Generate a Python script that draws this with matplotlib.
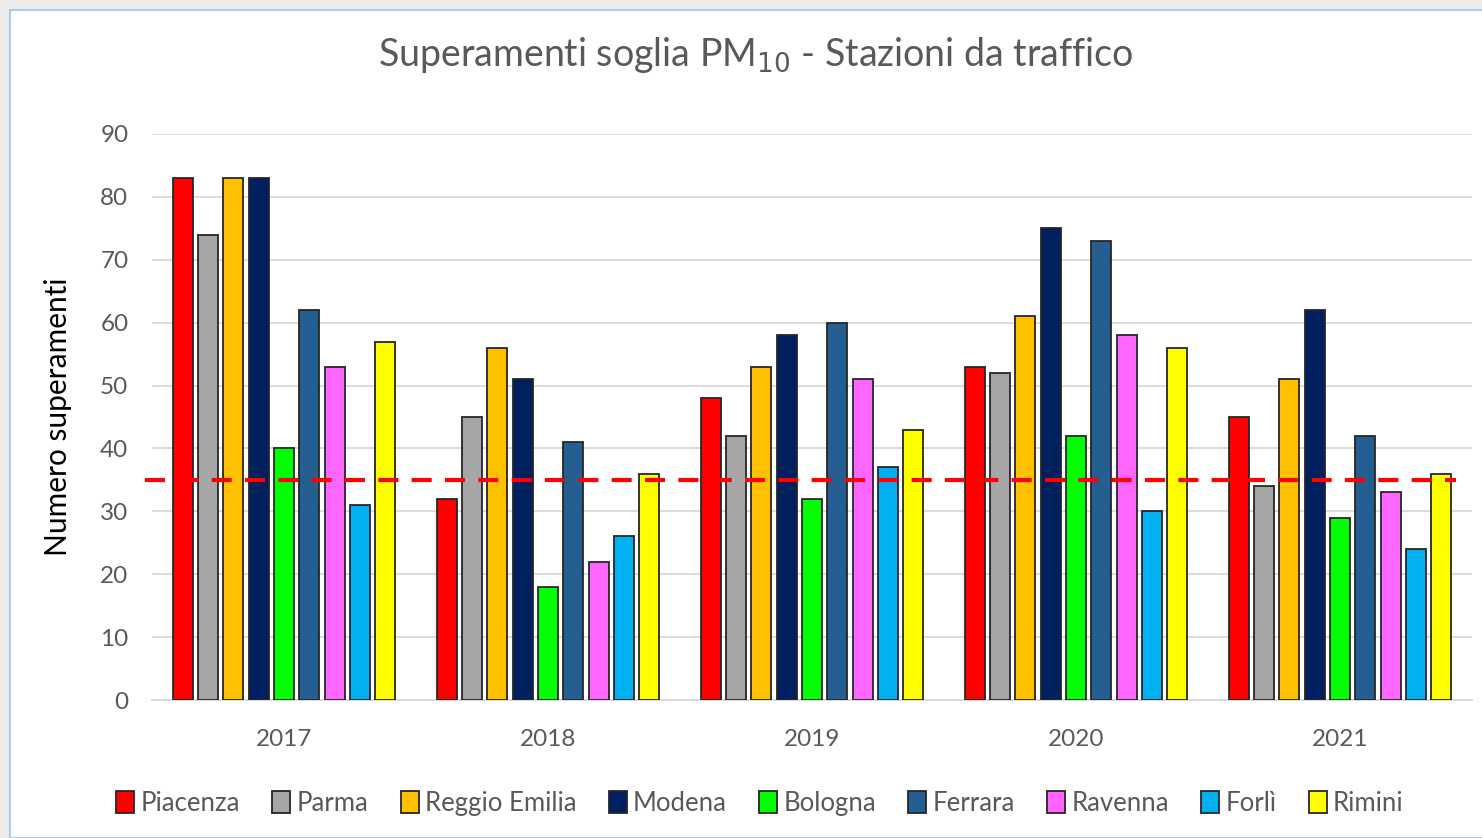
import matplotlib
matplotlib.use("Agg")
import matplotlib.pyplot as plt
import numpy as np
from matplotlib.patches import Rectangle

years = ["2017", "2018", "2019", "2020", "2021"]
stations = ["Piacenza", "Parma", "Reggio Emilia", "Modena", "Bologna",
            "Ferrara", "Ravenna", "Forlì", "Rimini"]
colors = ["#ff0000", "#a6a6a6", "#ffc000", "#002060", "#00ff00",
          "#255e91", "#ff66ff", "#00b0f0", "#ffff00"]
piacenza = [83, 32, 48, 53, 45]
parma = [74, 45, 42, 52, 34]
reggio_emilia = [83, 56, 53, 61, 51]
modena = [83, 51, 58, 75, 62]
bologna = [40, 18, 32, 42, 29]
ferrara = [62, 41, 60, 73, 42]
ravenna = [53, 22, 51, 58, 33]
forli = [31, 26, 37, 30, 24]
rimini = [57, 36, 43, 56, 36]
series = [piacenza, parma, reggio_emilia, modena, bologna, ferrara, ravenna, forli, rimini]
threshold = 35

plt.rcParams['font.family'] = ['Lato', 'DejaVu Sans']
fig = plt.figure(figsize=(14.82, 8.38), dpi=100)
fig.patch.set_facecolor("#ebebeb")
fig.patches.append(Rectangle((10/1482, 0), 1.1, 1 - 10/838, transform=fig.transFigure,
                             facecolor="white", edgecolor="#9dc3e6", linewidth=1.2, zorder=-10))

ax = fig.add_axes([152/1482, 1 - 700/838, 1320/1482, (700 - 134)/838])
ax.set_facecolor("none")
x = np.arange(len(years))
spacing = 0.096
width = 0.076
for i, (name, vals, c) in enumerate(zip(stations, series, colors)):
    ax.bar(x + (i - 4) * spacing, vals, width=width, color=c, edgecolor="#262626",
           linewidth=1.3, label=name, zorder=3)

ax.plot([-0.526, 4.44], [threshold, threshold], color="#ff0000", linestyle=(0, (4.8, 3.2)),
        linewidth=3, zorder=4, clip_on=False)

ax.set_xlim(-0.5, len(years) - 0.5)
ax.set_ylim(0, 90)
ax.set_yticks(np.arange(0, 91, 10))
ax.set_xticks(x)
ax.set_xticklabels(years)
ax.yaxis.grid(True, color="#d9d9d9", linewidth=1.3, zorder=0)
ax.set_axisbelow(True)
for s in ["top", "right", "left"]:
    ax.spines[s].set_visible(False)
ax.spines["bottom"].set_color("#d9d9d9")
ax.spines["bottom"].set_linewidth(1.3)
ax.tick_params(axis="both", length=0, labelsize=17.5, labelcolor="#595959")
ax.tick_params(axis="y", pad=17)
ax.tick_params(axis="x", pad=21)
ax.set_ylabel("Numero superamenti", fontsize=21.5, color="black", labelpad=20)

fig.text(756/1482, 1 - 55/838, "Superamenti soglia PM$_{10}$ - Stazioni da traffico",
         ha="center", va="center", fontsize=27, color="#595959")

leg = fig.legend(loc="center", bbox_to_anchor=(760/1482, 1 - 803/838), ncol=9,
                 frameon=False, fontsize=18.5, handlelength=0.7, handleheight=0.95,
                 handletextpad=0.25, columnspacing=1.25, labelcolor="#595959")

fig.savefig("out.png", dpi=100, facecolor=fig.get_facecolor())
